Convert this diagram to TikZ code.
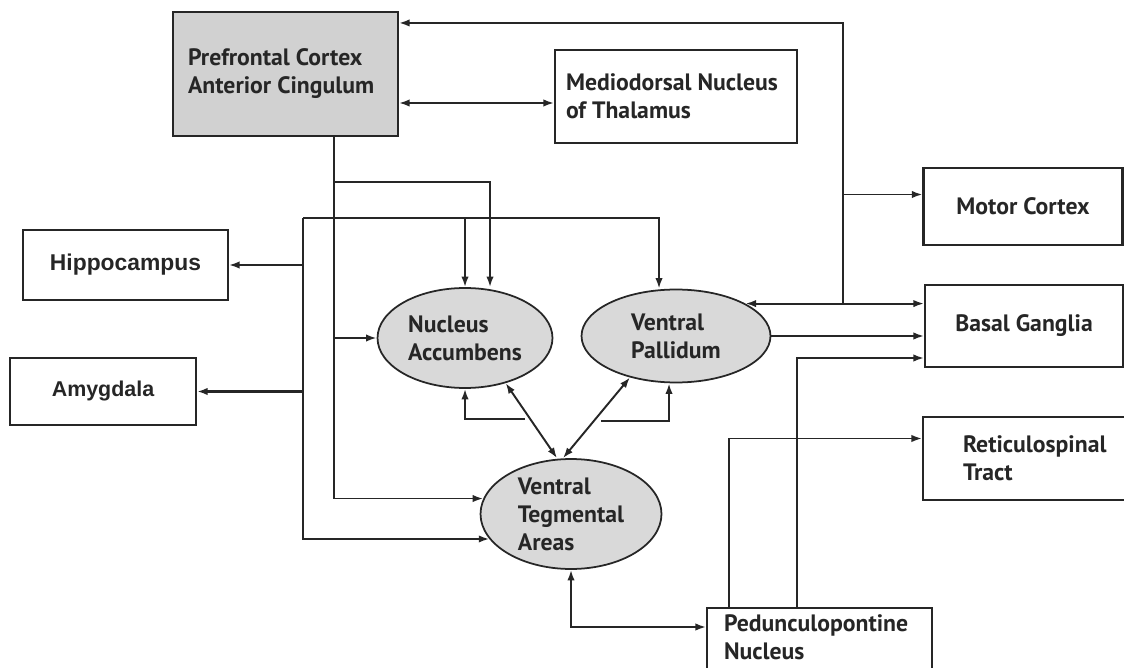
\documentclass[tikz,border=0pt]{standalone}
\usepackage{fontspec}
\setmainfont{PT Sans}
\newfontfamily\arialfont{Liberation Sans}
\usetikzlibrary{arrows.meta,calc,shapes.geometric}

\colorlet{ink}{black!85}
\tikzset{
    box/.style={draw=ink, text=ink, line width=1.2pt, inner sep=0pt, align=flush left,
        font=\bfseries\fontsize{13.5}{15.9}\selectfont},
    area/.style={draw=ink, text=ink, ellipse, line width=1pt, fill=black!15, inner sep=0pt,
        align=flush left, font=\bfseries\fontsize{13.5}{15.9}\selectfont},
    arial/.style={font=\arialfont\bfseries\fontsize{#1}{15}\selectfont, align=center},
}

\begin{document}
\begin{tikzpicture}[x=0.02cm, y=-0.02cm, >={Latex[length=6pt,width=4.2pt]}, line width=1.1pt, draw=ink]
    \path[use as bounding box, clip] (0,0) rectangle (1124,668);

    % boxes
    \node[box, fill=black!18, text width=3.9cm, inner xsep=0.3cm, minimum height=2.48cm] at (285.5,74)(pfc){Prefrontal Cortex\\Anterior Cingulum};
    \node[box, text width=4.4cm, inner xsep=0.22cm, minimum height=1.86cm] at (676,96.5)(md){Mediodorsal Nucleus\\of Thalamus};
    \node[box, align=center, minimum width=3.98cm, minimum height=1.54cm] at (1023,206.5)(motor){Motor Cortex};
    \node[box, align=center, minimum width=3.96cm, minimum height=1.64cm] at (1024,326)(bg){Basal Ganglia};
    \node[box, anchor=west, text width=3.1cm, inner xsep=0.8cm, minimum height=1.66cm] at (922,458.5)(rst){Reticulospinal\\Tract};
    \node[box, anchor=north west, text width=3.82cm, inner xsep=0.34cm, inner ysep=4pt, text depth=1.4cm] at (706,607)(ppn){Pedunculopontine\\Nucleus};
    \node[box, arial=13, minimum width=4.1cm, minimum height=1.4cm] at (125.5,265)(hip){Hippocampus};
    \node[box, arial=12.2, minimum width=3.72cm, minimum height=1.34cm] at (103,391.5)(amy){Amygdala};

    % ellipses
    \node[area, minimum width=3.5cm, minimum height=2cm] at (465,338)(na){Nucleus\\Accumbens};
    \node[area, minimum width=3.78cm, minimum height=1.86cm] at (676,336)(vp){Ventral\\Pallidum};
    \node[area, minimum width=3.62cm, minimum height=2.2cm] at (571,514)(vta){Ventral\\Tegmental\\Areas};

    \coordinate (ta) at (334,182);
    \coordinate (tb) at (303,218);
    \coordinate (jr) at (843,0);
    \coordinate (nab) at (525,419);
    \coordinate (vpb) at (601,421);
    \coordinate (mdin) at ($(md.west)+(0,6.5)$);
    \coordinate (mcin) at ($(motor.west)+(0,-12)$);
    \coordinate (ppnin) at ($(ppn.north west)+(0,20)$);

    % right side
    \draw[<->] (vp.25) -- (vp.25 -| bg.west);
    \draw[->] (vp.25 -| jr) |- ($(pfc.north east)+(0,12)$);
    \draw[->] (jr |- mcin) -- (mcin);
    \draw[<->] (pfc.east |- mdin) -- (mdin);
    \draw[->] (vp.east) -- (vp.east -| bg.west);

    % from prefrontal cortex
    \draw[->] (pfc.south -| ta) |- (vta.170);
    \draw[->] (ta) -| ($(na.north)+(25,0)$);
    \draw[->] (ta |- na.west) -- (na.west);

    % left trunk
    \draw[->] (tb) |- (vta.197);
    \draw[->] (tb) -| ($(vp.north)+(-17,0)$);
    \draw[->] (na.north |- tb) -- (na.north);
    \draw[->] (tb |- hip.east) -- (hip.east);
    \draw[->, line width=1.5pt] (tb |- amy.east) -- (amy.east);

    % between the ellipses
    \draw[->] (nab) -| (na.south);
    \draw[->] (vpb) -| ($(vp.south)+(-7,0)$);
    \draw[<->] (na.312) -- ($(vta.north)+(-14,0)$);
    \draw[<->] (vp.222) -- ($(vta.north)+(-8,0)$);

    % pedunculopontine nucleus
    \draw[<->] (vta.south) |- (ppnin);
    \draw[->] ($(ppn.north west)+(23,0)$) |- ($(rst.west)+(0,-20)$);
    \draw[->] ($(ppn.north west)+(91,0)$) |- ($(bg.west)+(0,32)$);
\end{tikzpicture}
\end{document}
